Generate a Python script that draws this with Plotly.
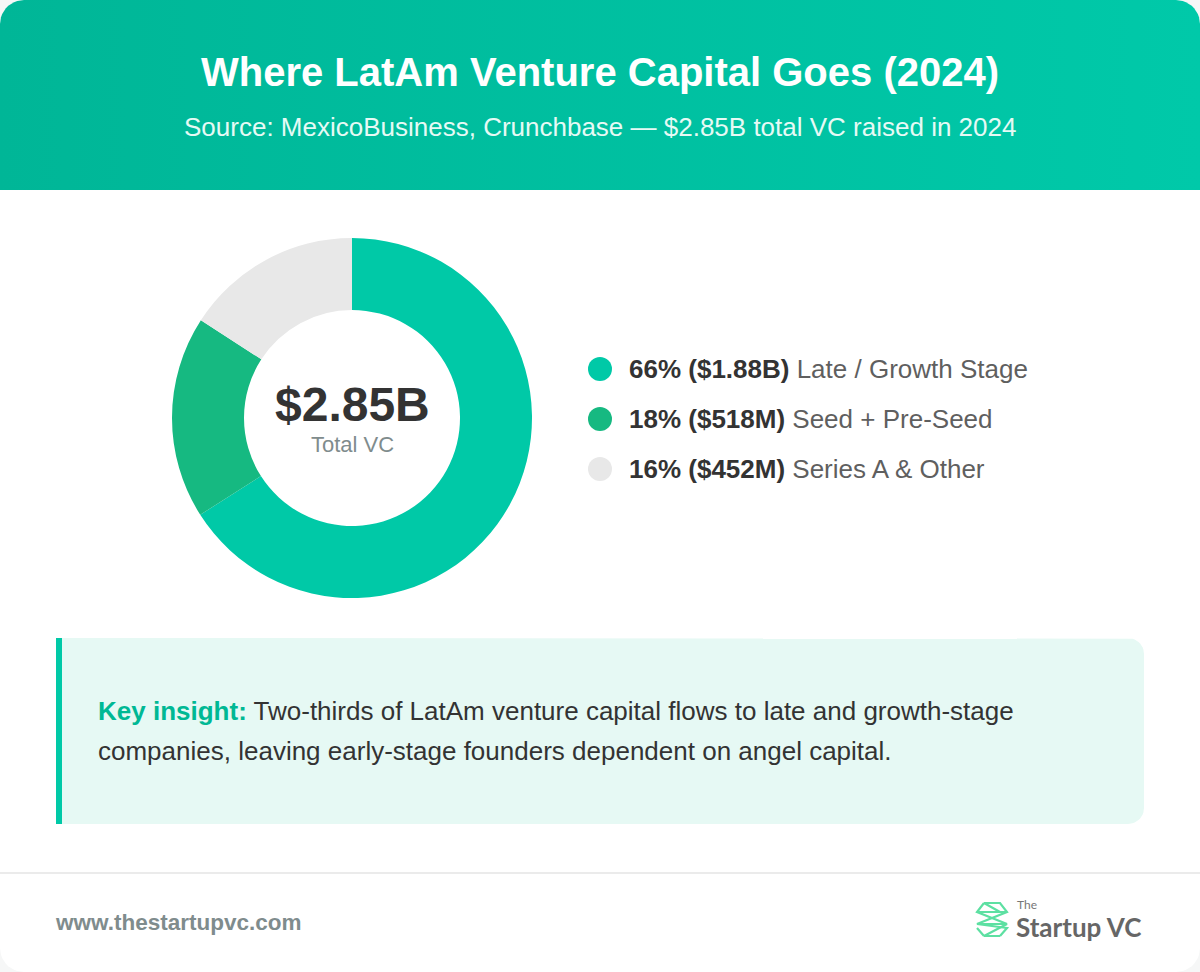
import numpy as np
import plotly.graph_objects as go

# ---------------- data ----------------
stages = ["Late / Growth Stage", "Seed + Pre-Seed", "Series A & Other"]
amounts_b = [1.88, 0.518, 0.452]           # $ billions
pct_labels = ["66%", "18%", "16%"]
amount_labels = ["$1.88B", "$518M", "$452M"]
colors = ["#00C9A7", "#16B981", "#E8E8E8"]
total_label = "$2.85B"

title = "Where LatAm Venture Capital Goes (2024)"
subtitle = "Source: MexicoBusiness, Crunchbase \u2014 $2.85B total VC raised in 2024"
insight_line1 = "Two-thirds of LatAm venture capital flows to late and growth-stage"
insight_line2 = "companies, leaving early-stage founders dependent on angel capital."
footer_url = "www.thestartupvc.com"

W, H = 1200, 972
FONT = "Liberation Sans, Arial, sans-serif"

fig = go.Figure()


def rounded_rect(x0, y0, x1, y1, rtl=0, rtr=0, rbr=0, rbl=0, n=12):
    pts = []
    def arc(cx, cy, r, a0, a1):
        for t in np.linspace(a0, a1, n):
            pts.append((cx + r * np.cos(t), cy + r * np.sin(t)))
    if rtl: arc(x0 + rtl, y0 + rtl, rtl, np.pi, 1.5 * np.pi)
    else: pts.append((x0, y0))
    if rtr: arc(x1 - rtr, y0 + rtr, rtr, 1.5 * np.pi, 2 * np.pi)
    else: pts.append((x1, y0))
    if rbr: arc(x1 - rbr, y1 - rbr, rbr, 0, 0.5 * np.pi)
    else: pts.append((x1, y1))
    if rbl: arc(x0 + rbl, y1 - rbl, rbl, 0.5 * np.pi, np.pi)
    else: pts.append((x0, y1))
    pts.append(pts[0])
    xs, ys = zip(*pts)
    return list(xs), list(ys)

# card
cx_, cy_ = rounded_rect(0, 0, W, H, 24, 24, 24, 24)
fig.add_trace(go.Scatter(x=cx_, y=cy_, mode="lines", fill="toself", fillcolor="#FFFFFF",
                         line=dict(width=0), hoverinfo="skip", showlegend=False))
# header with gradient
hx, hy = rounded_rect(0, 0, W, 190, 24, 24, 0, 0)
fig.add_trace(go.Scatter(x=hx, y=hy, mode="lines", fill="toself",
                         fillgradient=dict(type="horizontal",
                                           colorscale=[[0, "#00B697"], [1, "#00C9A9"]]),
                         line=dict(width=0), hoverinfo="skip", showlegend=False))
# insight box
bx, by = rounded_rect(56, 638, 1144, 824, 0, 16, 16, 0)
fig.add_trace(go.Scatter(x=bx, y=by, mode="lines", fill="toself", fillcolor="#E6F9F4",
                         line=dict(width=0), hoverinfo="skip", showlegend=False))

# legend dots
leg_y = [369 + 50 * i for i in range(len(stages))]
fig.add_trace(go.Scatter(x=[600] * len(stages), y=leg_y, mode="markers",
                         marker=dict(size=24, color=colors, line=dict(width=0)),
                         hoverinfo="skip", showlegend=False))

# donut
fig.add_trace(go.Pie(values=amounts_b, labels=stages, hole=0.6, sort=False,
                     direction="clockwise", rotation=0,
                     marker=dict(colors=colors, line=dict(width=0)),
                     textinfo="none", hoverinfo="skip", showlegend=False,
                     domain=dict(x=[172 / W, 532 / W], y=[1 - 598 / H, 1 - 238 / H])))

GREEN_LOGO = "#5DE0A2"
shapes = [
    dict(type="rect", x0=56, x1=62, y0=638, y1=824, fillcolor="#00C9A7", line=dict(width=0), layer="above"),
    dict(type="line", x0=0, x1=W, y0=873, y1=873, line=dict(color="#EBEBEB", width=2)),
    # logo icon
    dict(type="path", path="M984,903 L1000,903 L1007,912 L977,924 L1007,924 L984,936 L1000,936",
         line=dict(color=GREEN_LOGO, width=2.2)),
    dict(type="path", path="M984,903 L977,912 L1007,924 M1000,936 L1007,928 L977,924 M984,936 L977,928",
         line=dict(color=GREEN_LOGO, width=2.2)),
    dict(type="path", path="M984,903 L1000,912 M977,912 L1007,912",
         line=dict(color=GREEN_LOGO, width=2.2)),
]

ann = []
def A(x, y, text, size, color, xanchor="center", family=FONT, yanchor="middle"):
    ann.append(dict(x=x, y=y, xref="x", yref="y", text=text, showarrow=False,
                    xanchor=xanchor, yanchor=yanchor,
                    font=dict(family=family, size=size, color=color)))

A(600, 72, f"<b>{title}</b>", 40, "#FFFFFF")
A(600, 127, subtitle, 26, "#E6FAF5")
A(352, 404, f"<b>{total_label}</b>", 48, "#333333")
A(352, 444, "Total VC", 22, "#7F8C8D")
for i, s in enumerate(stages):
    A(627, leg_y[i], f"<b>{pct_labels[i]} ({amount_labels[i]})</b> <span style='color:#5F5F5F'>{s}</span>",
      26, "#333333", xanchor="left")
A(96, 711, f"<span style='color:#00B894'><b>Key insight:</b></span> {insight_line1}", 26, "#333333", xanchor="left")
A(96, 751, insight_line2, 26, "#333333", xanchor="left")
A(53, 922, f"<b>{footer_url}</b>", 22.5, "#7F8C8D", xanchor="left")
A(1015, 904, "The", 12, "#777777", xanchor="left", family="Lato, sans-serif")
A(1014, 927, "<b>Startup VC</b>", 26, "#666666", xanchor="left", family="Lato, sans-serif")

fig.update_layout(
    width=W, height=H, autosize=False,
    margin=dict(l=0, r=0, t=0, b=0),
    paper_bgcolor="#F6F7F7", plot_bgcolor="rgba(0,0,0,0)",
    xaxis=dict(range=[0, W], visible=False, domain=[0, 1], fixedrange=True),
    yaxis=dict(range=[H, 0], visible=False, domain=[0, 1], fixedrange=True),
    shapes=shapes, annotations=ann, showlegend=False,
)

fig.write_html("out.html", config={"displayModeBar": False},
               post_script="document.body.style.margin='0px';")
